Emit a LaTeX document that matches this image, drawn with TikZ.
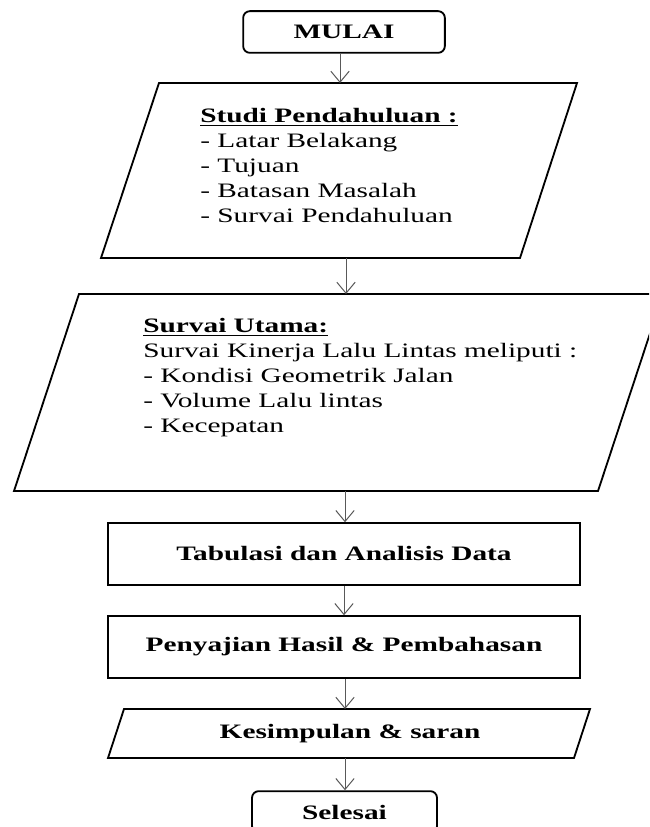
\documentclass[tikz,border=0pt]{standalone}
\usepackage{fontspec}
\setmainfont{Liberation Serif}[FakeStretch=1.43]
\usetikzlibrary{arrows.meta}

\begin{document}
\begin{tikzpicture}[x=0.6pt,y=-0.6pt,
		>={Straight Barb[length=6.6pt,width=11pt]},
		flow/.style={draw=black!65,line width=0.6pt},
		box/.style={draw,line width=1.1pt,inner sep=0pt,font=\fontsize{12.3}{15}\selectfont\bfseries},
		terminal/.style={box,rounded corners=4pt,minimum height=25pt},
		process/.style={box,minimum width=283pt,minimum height=37pt},
		para/.style={draw,line width=1.1pt},
		list/.style={inner sep=0pt,align=left,anchor=north west,font=\fontsize{12.3}{15}\selectfont}]
	
	\useasboundingbox (0,0) rectangle (649,827);
	\clip (0,0) rectangle (649,827);
	
	% start
	\node[terminal,minimum width=121pt] (mulai) at (344,32) {MULAI};
	
	% studi pendahuluan
	\draw[para] (159,83) -- (577,83) -- (520,258) -- (101,258) -- cycle;
	\coordinate (studi-in) at (340,83);
	\coordinate (studi-out) at (346,258);
	\node[list] (studi) at (200,108) {\underline{\textbf{Studi Pendahuluan :}}\\
		- Latar Belakang\\
		- Tujuan\\
		- Batasan Masalah\\
		- Survai Pendahuluan};
	
	% survai utama
	\draw[para] (79,294) -- (663,294) -- (598,491) -- (14,491) -- cycle;
	\coordinate (survai-in) at (346,294);
	\coordinate (survai-out) at (345,491);
	\node[list] (survai) at (143,318) {\underline{\textbf{Survai Utama:}}\\
		Survai Kinerja Lalu Lintas meliputi :\\
		- Kondisi Geometrik Jalan\\
		- Volume Lalu lintas\\
		- Kecepatan};
	
	\node[process] (tabulasi) at (344,554) {Tabulasi dan Analisis Data};
	\node[process] (penyajian) at (344,647) {Penyajian Hasil \& Pembahasan};
	
	% kesimpulan
	\draw[para] (124,709) -- (590,709) -- (574,758) -- (108,758) -- cycle;
	\coordinate (kes-in) at (345,709);
	\coordinate (kes-out) at (345,758);
	\node[box,draw=none] (kesimpulan) at (350,734) {Kesimpulan \& saran};
	
	% end
	\node[terminal,minimum width=111pt] (selesai) at (344.5,812) {Selesai};
	
	\draw[flow,->] (mulai.south -| studi-in) -- (studi-in);
	\draw[flow,->] (studi-out) -- (survai-in);
	\draw[flow,->] (survai-out) -- (survai-out |- tabulasi.north);
	\draw[flow,->] (tabulasi.south) -- (penyajian.north);
	\draw[flow,->] (penyajian.south -| kes-in) -- (kes-in);
	\draw[flow,->] (kes-out) -- (kes-out |- selesai.north);
	
\end{tikzpicture}
\end{document}
